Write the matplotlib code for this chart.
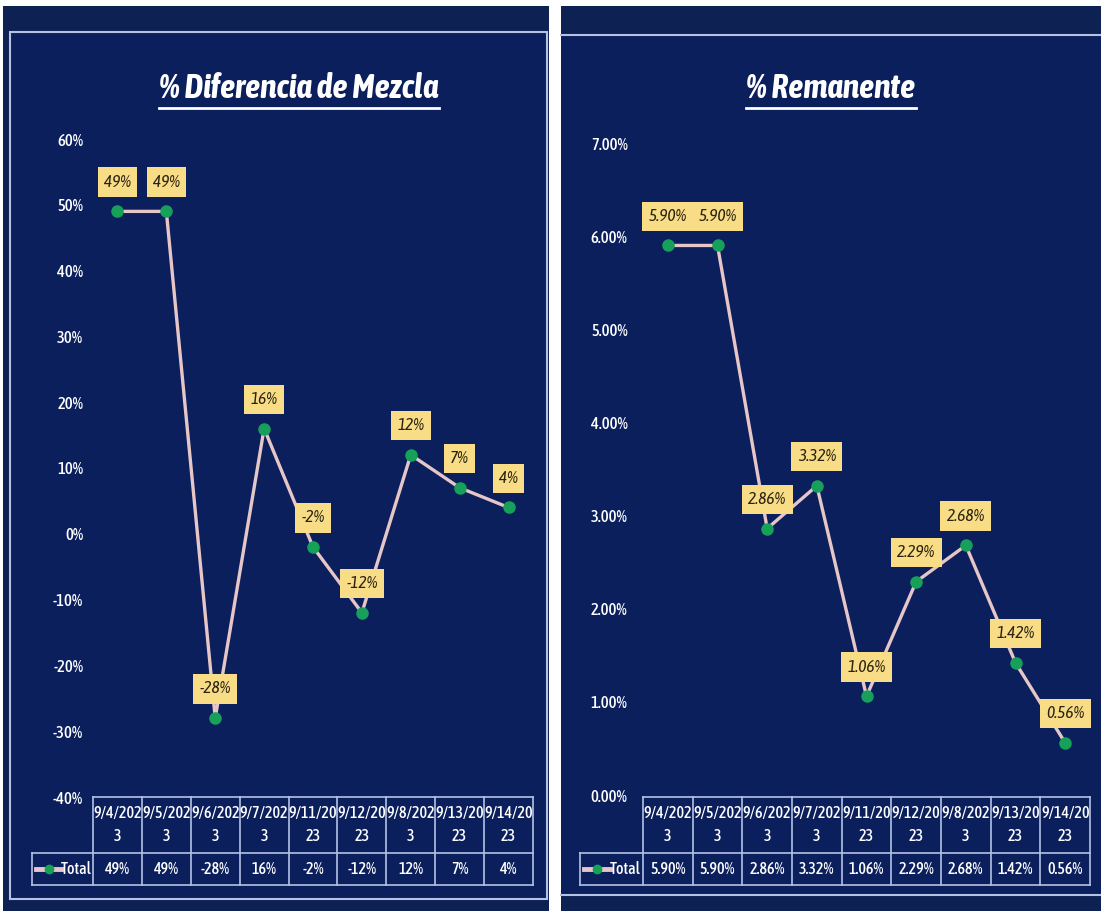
import matplotlib
matplotlib.use("Agg")
import matplotlib.pyplot as plt
from matplotlib import font_manager
from matplotlib.lines import Line2D
from matplotlib.patches import Rectangle
from matplotlib.transforms import blended_transform_factory

# datos
fechas = ["9/4/2023", "9/5/2023", "9/6/2023", "9/7/2023", "9/11/2023",
          "9/12/2023", "9/8/2023", "9/13/2023", "9/14/2023"]
dif_mezcla = [0.49, 0.49, -0.28, 0.16, -0.02, -0.12, 0.12, 0.07, 0.04]
remanente = [0.0590, 0.0590, 0.0286, 0.0332, 0.0106, 0.0229, 0.0268, 0.0142, 0.0056]
titulos = ["% Diferencia de Mezcla", "% Remanente"]

# fuentes (condensada parecida a Calibri)
instaladas = {f.name for f in font_manager.fontManager.ttflist}
fam = [f for f in ["Asap Condensed", "Archivo Narrow", "DejaVu Sans"] if f in instaladas]
plt.rcParams["font.family"] = fam

W, H = 1101, 911
NAVY = "#0b1f5c"
NAVY_OUT = "#0e2153"
BORDE = "#b4c2e4"
LINEA = "#e6c6c6"
VERDE = "#17a05a"
AMARILLO = "#f8dc86"

fig = plt.figure(figsize=(W / 100, H / 100), dpi=100, facecolor="white")


def px(x, y):
    # pixel (desde arriba) -> fraccion de figura
    return x / W, 1 - y / H


def rect_px(x0, y0, x1, y1, **kw):
    fx, fy = px(x0, y1)
    fig.patches.append(Rectangle((fx, fy), (x1 - x0) / W, (y1 - y0) / H,
                                 transform=fig.transFigure, **kw))


def hline_px(x0, x1, y):
    fx0, fy = px(x0, y)
    fx1, _ = px(x1, y)
    fig.lines.append(Line2D([fx0, fx1], [fy, fy], color=BORDE, lw=1.5,
                            transform=fig.transFigure, zorder=-1))


# fondos de paneles
rect_px(3, 6, 549, 911, facecolor=NAVY_OUT, edgecolor="none", zorder=-3)
rect_px(561, 6, 1101, 911, facecolor=NAVY_OUT, edgecolor="none", zorder=-3)
rect_px(10, 32, 547, 899, facecolor=NAVY, edgecolor=BORDE, lw=1.5, zorder=-2)
rect_px(561, 35, 1101, 895, facecolor=NAVY, edgecolor="none", zorder=-2)
hline_px(561, 1101, 35)
hline_px(561, 1101, 895)


def fecha_2lineas(f):
    return f[:7] + "\n" + f[7:]


def panel(ax_rect, valores, ylim, step, fmt, titulo, title_x, leg_x, lbl_pad):
    ax = fig.add_axes(ax_rect)
    ax.set_facecolor("none")
    x = list(range(len(valores)))
    ax.plot(x, valores, color=LINEA, lw=2.4, zorder=3, clip_on=False)
    ax.plot(x, valores, "o", color=VERDE, ms=8, zorder=4, clip_on=False)
    for xi, v in zip(x, valores):
        ax.annotate(fmt(v), (xi, v), xytext=(0, 21), textcoords="offset points",
                    ha="center", va="center", fontsize=12.5, style="italic",
                    fontweight=500, color="#2a2210",
                    bbox=dict(boxstyle="square,pad=0.36", fc=AMARILLO, ec="none"),
                    zorder=5)
    ax.set_xlim(-0.5, len(valores) - 0.5)
    ax.set_ylim(*ylim)
    n = round((ylim[1] - ylim[0]) / step)
    ticks = [ylim[0] + i * step for i in range(n + 1)]
    ax.set_yticks(ticks)
    ax.set_yticklabels([fmt(t) for t in ticks], color="white", fontsize=12,
                       fontweight=500)
    ax.tick_params(axis="y", length=0, pad=lbl_pad)
    ax.set_xticks([])
    for s in ax.spines.values():
        s.set_visible(False)

    # tabla de datos (x en datos, y en pulgadas desde abajo)
    tr = blended_transform_factory(ax.transData, fig.dpi_scale_trans)

    def yy(ypx):
        return (H - ypx) / 100

    y0, y1, y2 = 797, 853, 885
    nx = len(valores)
    kw = dict(color=BORDE, lw=1.2, transform=tr, clip_on=False)
    ax.add_line(Line2D([-0.5, nx - 0.5], [yy(y0), yy(y0)], **kw))
    ax.add_line(Line2D([leg_x, nx - 0.5], [yy(y1), yy(y1)], **kw))
    ax.add_line(Line2D([leg_x, nx - 0.5], [yy(y2), yy(y2)], **kw))
    ax.add_line(Line2D([leg_x, leg_x], [yy(y1), yy(y2)], **kw))
    for i in range(nx + 1):
        ax.add_line(Line2D([i - 0.5, i - 0.5], [yy(y0), yy(y2)], **kw))
    for i, (f, v) in enumerate(zip(fechas, valores)):
        ax.text(i, yy((y0 + y1) / 2), fecha_2lineas(f), transform=tr, ha="center",
                va="center", color="white", fontsize=11.5, fontweight=500,
                linespacing=1.4)
        ax.text(i, yy((y1 + y2) / 2), fmt(v), transform=tr, ha="center",
                va="center", color="white", fontsize=11.5, fontweight=500)
    # leyenda
    lx0 = leg_x + 0.08
    lx1 = leg_x + 0.6
    ax.add_line(Line2D([lx0, lx1], [yy((y1 + y2) / 2)] * 2, color=LINEA, lw=3.5,
                       transform=tr, clip_on=False))
    ax.add_line(Line2D([(lx0 + lx1) / 2], [yy((y1 + y2) / 2)], marker="o", color=VERDE,
                       ms=6, transform=tr, clip_on=False))
    ax.text(lx1, yy((y1 + y2) / 2), "Total", transform=tr, ha="left", va="center",
            color="white", fontsize=11.5, fontweight=500)

    t = fig.text(*px(title_x, 89), titulo, ha="center", va="center", color="white",
                 fontsize=24, fontweight="bold", style="italic")
    return ax, t


def pct0(v):
    return f"{v * 100:.0f}%"


def pct2(v):
    return f"{v * 100:.2f}%"


ax1, t1 = panel([93 / W, 114 / H, 440 / W, 658 / H], dif_mezcla, (-0.4, 0.6), 0.1,
                pct0, titulos[0], 299, -0.5 - 61 / 48.9, 7)
ax2, t2 = panel([643 / W, 116 / H, 447 / W, 652 / H], remanente, (0.0, 0.07), 0.01,
                pct2, titulos[1], 831, -0.5 - 63 / 49.7, 11)

# subrayado de titulos
fig.canvas.draw()
r = fig.canvas.get_renderer()
for t in (t1, t2):
    bb = t.get_window_extent(r)
    yb = (bb.y0 - 2) / fig.bbox.height
    fig.lines.append(Line2D([bb.x0 / fig.bbox.width, bb.x1 / fig.bbox.width], [yb, yb],
                            color="white", lw=2, transform=fig.transFigure))

fig.savefig("out.png", dpi=100, facecolor="white")
